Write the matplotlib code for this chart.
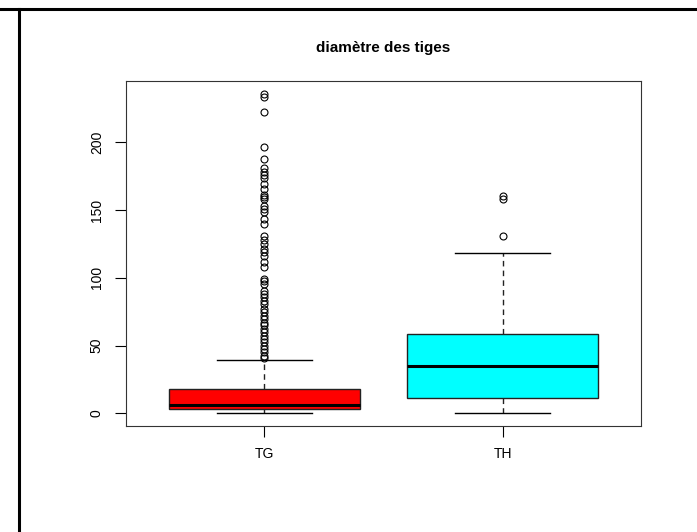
import matplotlib.pyplot as plt
from matplotlib.lines import Line2D

plt.rcParams['font.family'] = ['Liberation Sans', 'DejaVu Sans']

groups = ['TG', 'TH']
colors = ['#ff0000', '#00ffff']

# box statistics
whislo = [0.5, 0.0]
q1 = [3.2, 11.1]
med = [6.2, 34.7]
q3 = [18.0, 58.4]
whishi = [39.4, 118.7]

tg_outliers = [235.5, 233.5, 222.7, 197, 187.7, 181, 178, 175.6, 174, 169.5,
               165.8, 161, 160, 158.5, 152.7, 151, 148.5, 143.6, 140, 131,
               127.6, 125, 121, 119, 116.5, 111.6, 107.9, 99, 97.5, 95.6,
               90.6, 88, 85.7, 83, 80.8, 77, 74.6, 72, 69.7, 67, 64.8, 62,
               59.9, 57.4, 55, 52.5, 50, 47.5, 45, 42.6, 40.9]
th_outliers = [160.8, 158.4, 131]
outliers = [tg_outliers, th_outliers]

stats = []
for i, g in enumerate(groups):
    stats.append(dict(label=g, whislo=whislo[i], q1=q1[i], med=med[i],
                      q3=q3[i], whishi=whishi[i], fliers=outliers[i]))

fig = plt.figure(figsize=(6.97, 5.32), dpi=100)
ax = fig.add_axes([126 / 697, 1 - 426 / 532, (641 - 126) / 697, (426 - 81) / 532])

bp = ax.bxp(stats, positions=[1, 2], widths=0.8, patch_artist=True,
            boxprops=dict(edgecolor='#222222', linewidth=1),
            medianprops=dict(color='black', linewidth=2.2),
            whiskerprops=dict(color='#222222', linewidth=1, linestyle=(0, (4, 3))),
            capprops=dict(color='black', linewidth=1),
            capwidths=0.4,
            flierprops=dict(marker='o', markerfacecolor='none',
                            markeredgecolor='black', markersize=5,
                            markeredgewidth=0.8))
for patch, c in zip(bp['boxes'], colors):
    patch.set_facecolor(c)

ax.set_xlim(0.42, 2.58)
ax.set_ylim(-9.44, 245.4)
ax.set_yticks([0, 50, 100, 150, 200])
ax.set_yticklabels(['0', '50', '100', '150', '200'], rotation=90, va='center')
ax.set_xticks([1, 2])
ax.set_xticklabels(groups)
ax.tick_params(axis='both', length=8, labelsize=10, width=0.8)
ax.tick_params(axis='y', pad=8)
ax.tick_params(axis='x', pad=7)
for s in ax.spines.values():
    s.set_linewidth(0.8)
    s.set_color('#333333')
ax.set_title('diamètre des tiges', fontsize=11, fontweight='bold', pad=21)

# surrounding page frame
fig.add_artist(Line2D([0, 1], [1 - 8.5 / 532, 1 - 8.5 / 532], color='black', linewidth=2.2))
fig.add_artist(Line2D([18.5 / 697, 18.5 / 697], [0, 1 - 8.5 / 532], color='black', linewidth=2.2))

fig.savefig('out.png', dpi=100)
